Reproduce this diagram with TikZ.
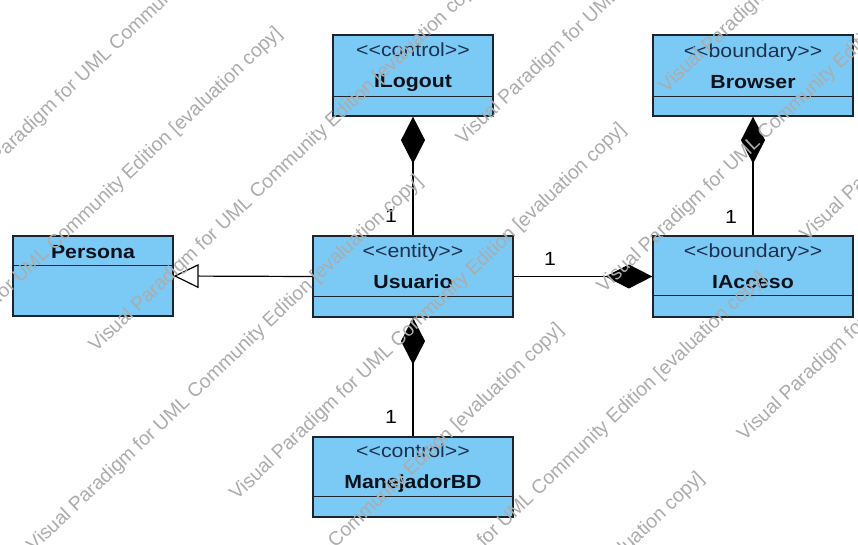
\documentclass[tikz,border=0pt]{standalone}
\usepackage{fontspec}
\setmainfont{Liberation Sans}
\newfontfamily\vpfont{Liberation Sans}[FakeStretch=1.12]
\usetikzlibrary{arrows.meta, positioning}
\definecolor{classfill}{RGB}{122,202,245}
\definecolor{classdraw}{RGB}{28,36,46}
\definecolor{stereotext}{RGB}{30,48,78}
\definecolor{nametext}{RGB}{12,18,28}
\definecolor{wmgray}{RGB}{172,172,172}
\newcommand\stopen{<\kern0pt<}
\newcommand\stclose{>\kern0pt>}

\begin{document}
\begin{tikzpicture}[x=1pt, y=-1pt,
    classbox/.style={draw=classdraw, fill=classfill, line width=1.3pt, inner sep=0pt},
    divider/.style={draw=classdraw, line width=1.3pt},
    stereo/.style={anchor=base, inner sep=0pt, text=stereotext, font=\vpfont\fontsize{19}{22}\selectfont},
    cname/.style={anchor=base, inner sep=0pt, text=nametext, font=\vpfont\bfseries\fontsize{19}{22}\selectfont},
    mult/.style={anchor=base, inner sep=0pt, font=\vpfont\fontsize{19}{22}\selectfont},
    compo/.style={line width=1.2pt, {Diamond[length=47pt, width=24pt]}-},
    generalize/.style={line width=1.2pt, -{Triangle[length=25pt, width=24pt, fill=white]}},
    watermark/.style={anchor=base west, inner sep=0pt, rotate=43.5, text=wmgray, font=\fontsize{19.5}{22}\selectfont}
]
    \path[use as bounding box, fill=white] (0,0) rectangle (858,544);

    % clases
    \node[classbox, minimum width=160, minimum height=80] (persona) at (93,276) {};
    \draw[divider] (persona.north west) ++(0,30) -- ++(160,0);
    \node[cname] (personanm) at (93,258) {Persona};

    \node[classbox, minimum width=200, minimum height=81] (usuario) at (413,276.5) {};
    \draw[divider] (usuario.north west) ++(0,61) -- ++(200,0);
    \node[stereo] (usuariost) at (413,257) {\stopen entity\stclose};
    \node[cname] (usuarionm) at (413,288) {Usuario};

    \node[classbox, minimum width=200, minimum height=81] (iacceso) at (753,276.5) {};
    \draw[divider] (iacceso.north west) ++(0,60) -- ++(200,0);
    \node[stereo] (iaccesost) at (753,257) {\stopen boundary\stclose};
    \node[cname] (iaccesonm) at (753,288) {IAcceso};

    \node[classbox, minimum width=160, minimum height=81] (ilogout) at (413,75.5) {};
    \draw[divider] (ilogout.north west) ++(0,62) -- ++(160,0);
    \node[stereo] (ilogoutst) at (413,56) {\stopen control\stclose};
    \node[cname] (ilogoutnm) at (413,87) {ILogout};

    \node[classbox, minimum width=200, minimum height=81] (browser) at (753,75.5) {};
    \draw[divider] (browser.north west) ++(0,62) -- ++(200,0);
    \node[stereo] (browserst) at (753,57) {\stopen boundary\stclose};
    \node[cname] (browsernm) at (753,88) {Browser};

    \node[classbox, minimum width=200, minimum height=80] (manejador) at (413,477) {};
    \draw[divider] (manejador.north west) ++(0,60) -- ++(200,0);
    \node[stereo] (manejadorst) at (413,457) {\stopen control\stclose};
    \node[cname] (manejadornm) at (413,488) {ManejadorBD};

    % relaciones
    \draw[generalize] (usuario.west) -- (persona.east);
    \draw[compo] (ilogout.south) -- (usuario.north);
    \draw[compo] (browser.south) -- (iacceso.north);
    \draw[compo] (iacceso.west) -- (usuario.east);
    \draw[compo] (usuario.south) -- (manejador.north);

    % multiplicidades
    \node[mult] (m1) at (391,222) {1};
    \node[mult] (m2) at (731,223) {1};
    \node[mult] (m3) at (550,265) {1};
    \node[mult] (m4) at (391,423) {1};

    % marca de agua
    \begin{scope}
        \clip (0,0) rectangle (858,544);
        \foreach \k/\r in {0/0, 1/0, 2/0, 3/0, 3/1, 4/0, 4/1, 5/0, 5/1, 6/0, 6/1, 7/0, 7/1} {
            \pgfmathsetmacro\bb{117.5+102.2*\k}
            \pgfmathsetmacro\sa{-173-183*mod(\k,2)+592*\r}
            \node[watermark] (wm\k\r) at ({0.7254*\sa+0.6884*\bb},{-0.6884*\sa+0.7254*\bb})
                {Visual Paradigm for UML Community Edition [evaluation copy]};
        }
    \end{scope}
\end{tikzpicture}
\end{document}
